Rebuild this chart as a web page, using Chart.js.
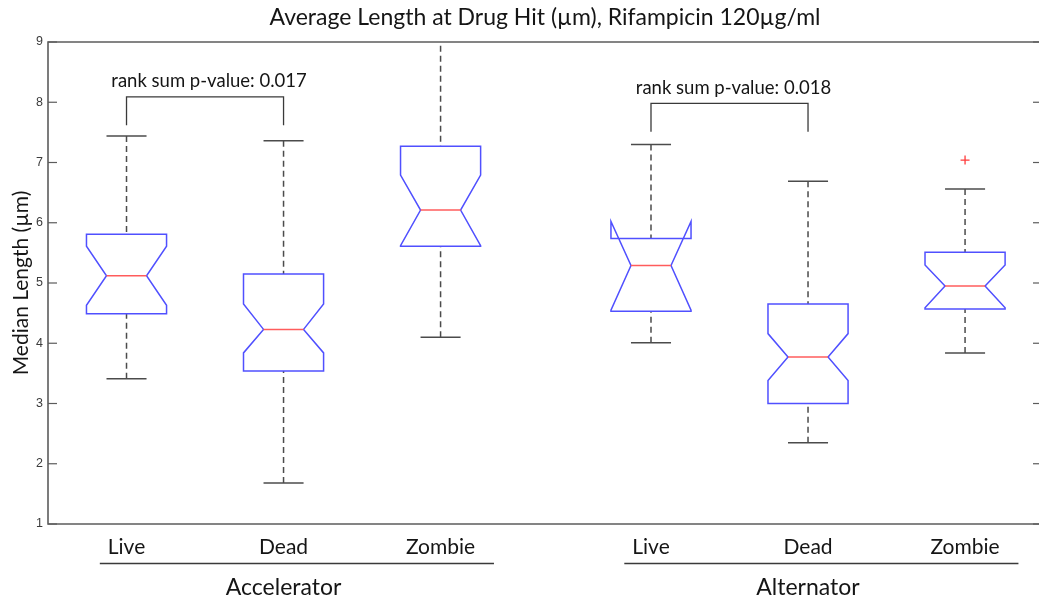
<!DOCTYPE html>
<html>
<head>
<meta charset="utf-8">
<script src="https://cdn.jsdelivr.net/npm/chart.js@4/dist/chart.umd.min.js"></script>
<style>
  html, body { margin: 0; padding: 0; background: #fff; overflow: hidden; }
  #wrap { width: 1050px; height: 600px; position: relative; }
</style>
</head>
<body>
<div id="wrap"><canvas id="lengthChart"></canvas></div>
<script>
// Categories and groups
const categories = ['Live', 'Dead', 'Zombie', 'Live', 'Dead', 'Zombie'];
const groups = ['Accelerator', 'Alternator'];
const groupMembers = [[0, 1, 2], [3, 4, 5]];
// x slot of each box on the linear axis (second group shifted right)
const slots = [1, 2, 3, 4.34, 5.34, 6.34];

// Box statistics, µm
const whiskerLow  = [3.41, 1.68, 4.10, 4.01, 2.35, 3.84];
const q1          = [4.49, 3.54, 5.61, 4.53, 3.00, 4.57];
const notchLow    = [4.63, 3.84, 5.62, 4.55, 3.38, 4.59];
const median      = [5.12, 4.23, 6.21, 5.29, 3.77, 4.95];
const notchHigh   = [5.61, 4.65, 6.79, 6.02, 4.16, 5.30];
const q3          = [5.81, 5.15, 7.27, 5.74, 4.65, 5.51];
const whiskerHigh = [7.44, 7.36, 9.60, 7.30, 6.69, 6.56];
const outliers    = [[], [], [], [], [], [7.04]];

// Rank-sum comparisons: [from box, to box], bracket top, leg bottom, p-value
const pairs = [[0, 1], [3, 4]];
const bracketTop = [8.09, 7.98];
const bracketLeg = [7.62, 7.51];
const pValues = ['0.017', '0.018'];

const yTicks = [1, 2, 3, 4, 5, 6, 7, 8, 9];

const BOX_HALF = 0.255;
const AXIS_COLOR = '#5c5c5c';

const outlierPoints = [];
outliers.forEach((vals, i) => vals.forEach(v => outlierPoints.push({ x: slots[i], y: v })));

function strokeLine(ctx, x1, y1, x2, y2) {
  ctx.beginPath();
  ctx.moveTo(x1, y1);
  ctx.lineTo(x2, y2);
  ctx.stroke();
}

const notchedBoxes = {
  id: 'notchedBoxes',
  beforeDatasetsDraw(chart) {
    const { ctx, chartArea: a, scales: { x, y } } = chart;
    ctx.save();
    ctx.beginPath();
    ctx.rect(a.left, a.top, a.right - a.left, a.bottom - a.top);
    ctx.clip();
    ctx.lineCap = 'butt';

    slots.forEach((s, i) => {
      const cx = x.getPixelForValue(s);
      const half = x.getPixelForValue(s + BOX_HALF) - cx;
      const nh = half / 2;
      const py = v => y.getPixelForValue(v);

      // whiskers
      ctx.strokeStyle = '#4b4b4b';
      ctx.lineWidth = 1.5;
      ctx.setLineDash([6, 4]);
      strokeLine(ctx, cx, py(whiskerHigh[i]), cx, py(q3[i]));
      strokeLine(ctx, cx, py(whiskerLow[i]), cx, py(q1[i]));
      ctx.setLineDash([]);
      strokeLine(ctx, cx - nh, py(whiskerHigh[i]), cx + nh, py(whiskerHigh[i]));
      strokeLine(ctx, cx - nh, py(whiskerLow[i]), cx + nh, py(whiskerLow[i]));

      // notched box outline
      ctx.strokeStyle = '#5050ff';
      ctx.lineWidth = 1.5;
      ctx.beginPath();
      ctx.moveTo(cx - half, py(q1[i]));
      ctx.lineTo(cx - half, py(notchLow[i]));
      ctx.lineTo(cx - nh, py(median[i]));
      ctx.lineTo(cx - half, py(notchHigh[i]));
      ctx.lineTo(cx - half, py(q3[i]));
      ctx.lineTo(cx + half, py(q3[i]));
      ctx.lineTo(cx + half, py(notchHigh[i]));
      ctx.lineTo(cx + nh, py(median[i]));
      ctx.lineTo(cx + half, py(notchLow[i]));
      ctx.lineTo(cx + half, py(q1[i]));
      ctx.closePath();
      ctx.stroke();

      // median
      ctx.strokeStyle = '#ff5c5c';
      strokeLine(ctx, cx - nh, py(median[i]), cx + nh, py(median[i]));
    });
    ctx.restore();
  },
  afterDraw(chart) {
    const { ctx, chartArea: a, scales: { x, y } } = chart;
    ctx.save();

    // axes frame
    ctx.strokeStyle = AXIS_COLOR;
    ctx.lineWidth = 1.6;
    ctx.beginPath();
    ctx.moveTo(a.left, a.top);
    ctx.lineTo(a.right, a.top);
    ctx.lineTo(a.right, a.bottom);
    ctx.lineTo(a.left, a.bottom);
    ctx.closePath();
    ctx.stroke();

    // inward tick marks on both sides
    ctx.lineWidth = 1.2;
    yTicks.forEach(t => {
      const ty = y.getPixelForValue(t);
      strokeLine(ctx, a.left, ty, a.left + 9, ty);
      strokeLine(ctx, a.right - 9, ty, a.right, ty);
    });

    // significance brackets
    ctx.strokeStyle = '#3a3a3a';
    ctx.lineWidth = 1.3;
    ctx.fillStyle = '#151515';
    ctx.font = '18.5px Lato';
    ctx.textAlign = 'center';
    ctx.textBaseline = 'alphabetic';
    pairs.forEach(([p, q], k) => {
      const x1 = x.getPixelForValue(slots[p]);
      const x2 = x.getPixelForValue(slots[q]);
      const yt = y.getPixelForValue(bracketTop[k]);
      const yl = y.getPixelForValue(bracketLeg[k]);
      ctx.beginPath();
      ctx.moveTo(x1, yl);
      ctx.lineTo(x1, yt);
      ctx.lineTo(x2, yt);
      ctx.lineTo(x2, yl);
      ctx.stroke();
      ctx.fillText('rank sum p-value: ' + pValues[k], (x1 + x2) / 2 + 4, yt - 9.5);
    });

    // group underlines and names
    ctx.strokeStyle = '#3a3a3a';
    ctx.lineWidth = 1.5;
    ctx.font = '23px Lato';
    groups.forEach((g, k) => {
      const m = groupMembers[k];
      const xs = x.getPixelForValue(slots[m[0]] - 0.17);
      const xe = x.getPixelForValue(slots[m[m.length - 1]] + 0.34);
      strokeLine(ctx, xs, 563.5, xe, 563.5);
      ctx.fillText(g, x.getPixelForValue(slots[m[1]]), 595);
    });
    ctx.restore();
  }
};

new Chart(document.getElementById('lengthChart'), {
  type: 'scatter',
  data: {
    datasets: [{
      label: 'outliers',
      data: outlierPoints,
      pointStyle: 'cross',
      radius: 4.5,
      borderColor: '#ff3b3b',
      borderWidth: 1.3
    }]
  },
  plugins: [notchedBoxes],
  options: {
    responsive: true,
    maintainAspectRatio: false,
    animation: false,
    layout: { padding: { left: 0, right: 8, top: 0, bottom: 0 } },
    plugins: {
      legend: { display: false },
      tooltip: { enabled: false },
      title: {
        display: true,
        fullSize: false,
        text: 'Average Length at Drug Hit (µm), Rifampicin 120µg/ml',
        color: '#151515',
        font: { family: 'Lato', size: 23, weight: 'normal' },
        padding: { top: 3.5, bottom: 10.9 }
      }
    },
    scales: {
      x: {
        type: 'linear',
        min: 0.5,
        max: 6.83,
        grid: { display: false, drawTicks: false },
        border: { display: false },
        afterBuildTicks: scale => { scale.ticks = slots.map(v => ({ value: v })); },
        afterFit: scale => { scale.height = 76; },
        ticks: {
          autoSkip: false,
          maxRotation: 0,
          padding: 11,
          color: '#151515',
          font: { family: 'Lato', size: 21 },
          callback: (value, index) => categories[index]
        }
      },
      y: {
        min: 1,
        max: 9,
        grid: { display: false, drawTicks: false },
        border: { display: false },
        afterFit: scale => { scale.width = 48; },
        afterBuildTicks: scale => { scale.ticks = yTicks.map(v => ({ value: v })); },
        ticks: {
          padding: 5,
          color: '#3c3c3c',
          font: { family: 'Liberation Sans', size: 12.5 }
        },
        title: {
          display: true,
          text: 'Median Length (µm)',
          color: '#151515',
          font: { family: 'Lato', size: 21 },
          padding: { top: 9 }
        }
      }
    }
  }
});
</script>
</body>
</html>
